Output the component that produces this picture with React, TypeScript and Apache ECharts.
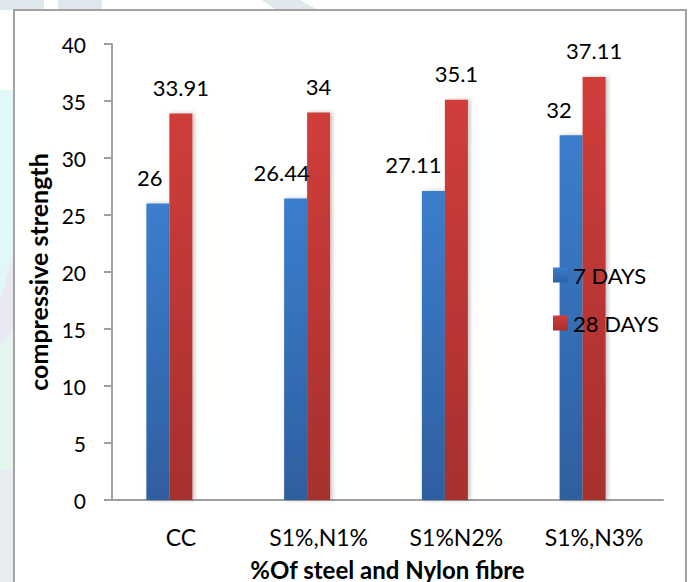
import React, { useEffect, useRef } from "react";
import * as echarts from "echarts";

const categories = ["CC", "S1%,N1%", "S1%N2%", "S1%,N3%"];
const days7 = [26, 26.44, 27.11, 32];
const days28 = [33.91, 34, 35.1, 37.11];
const emptySeries = ["-", "-", "-", "-"];
const yTicks = { min: 0, max: 40, interval: 5 };

const blueLabelShift = [-8, -14, -20, -12];

const FONT = "Lato, 'Open Sans', sans-serif";

export default function App() {
  const ref = useRef<HTMLDivElement>(null);
  useEffect(() => {
    if (!ref.current) return;
    const chart = echarts.init(ref.current, undefined, { renderer: "svg" });
    const blue = new echarts.graphic.LinearGradient(0, 0, 0, 1, [
      { offset: 0, color: "#3b7ecd" },
      { offset: 1, color: "#2f5f9f" },
    ]);
    const red = new echarts.graphic.LinearGradient(0, 0, 0, 1, [
      { offset: 0, color: "#d03d3b" },
      { offset: 1, color: "#a6302e" },
    ]);
    const labelBase = {
      show: true,
      position: "top" as const,
      distance: 15,
      color: "#000",
      fontFamily: FONT,
      fontSize: 22,
    };
    chart.setOption({
      animation: false,
      backgroundColor: "#fff",
      graphic: [
        { type: "polygon", shape: { points: [[0, 90], [14, 90], [14, 250], [0, 300]] }, style: { fill: "#e2f7f8" }, silent: true },
        { type: "polygon", shape: { points: [[0, 300], [14, 250], [14, 330], [0, 345]] }, style: { fill: "#e9e9f6" }, silent: true },
        { type: "polygon", shape: { points: [[0, 345], [14, 330], [14, 470], [0, 470]] }, style: { fill: "#e3f5ec" }, silent: true },
        { type: "polygon", shape: { points: [[0, 470], [14, 470], [14, 582], [0, 582]] }, style: { fill: "#e6ecef" }, silent: true },
        { type: "rect", shape: { x: 0, y: 0, width: 44, height: 10 }, style: { fill: "#dfe8ec" }, silent: true },
        { type: "rect", shape: { x: 58, y: 0, width: 44, height: 10 }, style: { fill: "#dfe8ec" }, silent: true },
        { type: "polygon", shape: { points: [[262, 0], [300, 0], [318, 10], [276, 10]] }, style: { fill: "#dfe8ec" }, silent: true },
        {
          type: "rect",
          shape: { x: 14, y: 10, width: 672, height: 600 },
          style: { fill: "none", stroke: "#a3a3a3", lineWidth: 2 },
          silent: true,
        },
      ],
      grid: { left: 112, right: 29, top: 44, bottom: 82, containLabel: false, outerBoundsMode: "none" },
      legend: {
        data: ["7 DAYS", "28 DAYS"],
        orient: "vertical",
        left: 548,
        top: 259,
        itemWidth: 15,
        itemHeight: 15,
        itemGap: 26,
        itemTextGap: 6,
        icon: "rect",
        textStyle: { fontFamily: FONT, fontSize: 22, color: "#000" },
      },
      xAxis: {
        type: "category",
        data: categories,
        axisLine: { lineStyle: { color: "#a0a0a0", width: 2 } },
        axisTick: { show: false },
        axisLabel: { color: "#000", fontFamily: FONT, fontSize: 23, margin: 25 },
        name: "%Of steel and Nylon fibre",
        nameLocation: "middle",
        nameGap: 57,
        nameTextStyle: { fontFamily: FONT, fontSize: 24, fontWeight: "bold", color: "#000" },
      },
      yAxis: {
        type: "value",
        min: yTicks.min,
        max: yTicks.max,
        interval: yTicks.interval,
        splitLine: { show: false },
        axisLine: { show: true, lineStyle: { color: "#a0a0a0", width: 2 } },
        axisTick: { show: true, length: 8, lineStyle: { color: "#a0a0a0", width: 2 } },
        axisLabel: { color: "#000", fontFamily: FONT, fontSize: 21, margin: 26 },
        name: "compressive strength",
        nameLocation: "middle",
        nameGap: 60,
        nameTextStyle: { fontFamily: FONT, fontSize: 25, fontWeight: "bold", color: "#000" },
      },
      series: [
        {
          name: "7 DAYS",
          type: "bar",
          barWidth: 23,
          barGap: "0%",
          itemStyle: { color: blue, shadowColor: "rgba(0,0,0,0.25)", shadowBlur: 4, shadowOffsetX: 2 },
          label: labelBase,
          data: days7.map((v, i) => ({ value: v, label: { offset: [blueLabelShift[i], 0] } })),
        },
        {
          name: "28 DAYS",
          type: "bar",
          barWidth: 23,
          barGap: "0%",
          itemStyle: { color: red, shadowColor: "rgba(0,0,0,0.25)", shadowBlur: 4, shadowOffsetX: 2 },
          label: labelBase,
          data: days28,
        },
        {
          name: "",
          type: "bar",
          barWidth: 23,
          barGap: "0%",
          data: emptySeries,
        },
      ],
    });
    return () => chart.dispose();
  }, []);
  return (
    <div
      ref={ref}
      style={{ position: "absolute", left: 0, top: 0, width: 692, height: 582 }}
    />
  );
}
